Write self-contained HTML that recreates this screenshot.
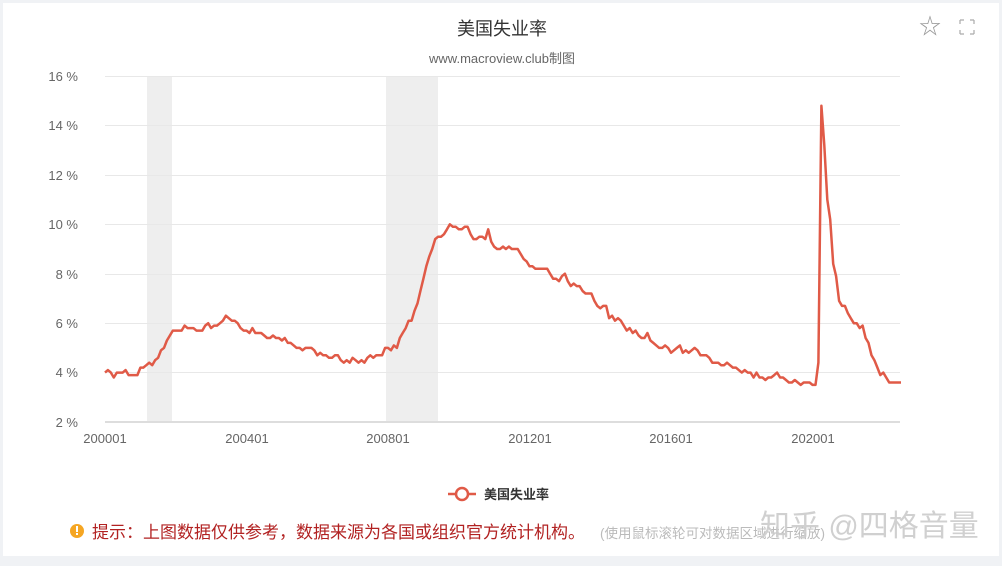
<!DOCTYPE html>
<html><head><meta charset="utf-8"><style>
body{margin:0;width:1002px;height:566px;background:#f0f2f5;font-family:"Liberation Sans","Noto Sans CJK SC",sans-serif;overflow:hidden}
#card{position:absolute;left:3px;top:3px;width:996px;height:553px;background:#fff}
</style></head><body>
<div id="card"></div>
<svg width="1002" height="566" style="position:absolute;left:0;top:0" font-family="Liberation Sans, Noto Sans CJK SC, sans-serif">
<text x="502" y="35" text-anchor="middle" font-size="18" fill="#333">美国失业率</text>
<text x="502" y="63" text-anchor="middle" font-size="13" fill="#666">www.macroview.club制图</text>
<text x="930" y="34" text-anchor="middle" font-size="22" fill="#999">☆</text>
<g stroke="#aaa" stroke-width="1.2" fill="none"><path d="M960 20l4 0M960 20l0 4M974 20l-4 0M974 20l0 4M960 34l4 0M960 34l0-4M974 34l-4 0M974 34l0-4"/></g>
<rect x="147" y="76" width="25" height="346" fill="#eee"/>
<rect x="386" y="76" width="52" height="346" fill="#eee"/>
<g stroke="#e8e8e8" stroke-width="1">
<line x1="105" x2="900" y1="76.5" y2="76.5"/><line x1="105" x2="900" y1="125.5" y2="125.5"/><line x1="105" x2="900" y1="175.5" y2="175.5"/><line x1="105" x2="900" y1="224.5" y2="224.5"/><line x1="105" x2="900" y1="274.5" y2="274.5"/><line x1="105" x2="900" y1="323.5" y2="323.5"/><line x1="105" x2="900" y1="372.5" y2="372.5"/>
</g>
<line x1="105" x2="900" y1="422" y2="422" stroke="#ddd" stroke-width="2"/>
<g font-size="13" fill="#666" text-anchor="end">
<text x="78" y="81">16 %</text><text x="78" y="130">14 %</text><text x="78" y="180">12 %</text><text x="78" y="229">10 %</text><text x="78" y="279">8 %</text><text x="78" y="328">6 %</text><text x="78" y="377">4 %</text><text x="78" y="427">2 %</text>
</g>
<g font-size="13" fill="#666" text-anchor="middle">
<text x="105" y="443">200001</text><text x="247" y="443">200401</text><text x="388" y="443">200801</text><text x="530" y="443">201201</text><text x="671" y="443">201601</text><text x="813" y="443">202001</text>
</g>
<polyline id="ln" fill="none" stroke="#e05a47" stroke-width="2.5" stroke-linejoin="round"/>
<line x1="448" x2="476" y1="494" y2="494" stroke="#e05a47" stroke-width="2.5"/>
<circle cx="462" cy="494" r="6" fill="#fff" stroke="#e05a47" stroke-width="2.5"/>
<text x="484" y="499" font-size="13" fill="#333" font-weight="bold">美国失业率</text>
<circle cx="77" cy="531" r="7" fill="#f5a623"/><rect x="76" y="526" width="2" height="6" fill="#fff"/><rect x="76" y="533" width="2" height="2" fill="#fff"/>
<text x="92" y="538" font-size="17" fill="#b22222">提示：上图数据仅供参考，数据来源为各国或组织官方统计机构。</text>
<text x="600" y="538" font-size="13.5" fill="#bbb">(使用鼠标滚轮可对数据区域进行缩放)</text>
<text x="760" y="536" font-size="30" fill="#ccc" opacity="0.9">知乎 @四格音量</text>
</svg>
<script>
var d=[4.0,4.1,4.0,3.8,4.0,4.0,4.0,4.1,3.9,3.9,3.9,3.9,
4.2,4.2,4.3,4.4,4.3,4.5,4.6,4.9,5.0,5.3,5.5,5.7,
5.7,5.7,5.7,5.9,5.8,5.8,5.8,5.7,5.7,5.7,5.9,6.0,
5.8,5.9,5.9,6.0,6.1,6.3,6.2,6.1,6.1,6.0,5.8,5.7,
5.7,5.6,5.8,5.6,5.6,5.6,5.5,5.4,5.4,5.5,5.4,5.4,
5.3,5.4,5.2,5.2,5.1,5.0,5.0,4.9,5.0,5.0,5.0,4.9,
4.7,4.8,4.7,4.7,4.6,4.6,4.7,4.7,4.5,4.4,4.5,4.4,
4.6,4.5,4.4,4.5,4.4,4.6,4.7,4.6,4.7,4.7,4.7,5.0,
5.0,4.9,5.1,5.0,5.4,5.6,5.8,6.1,6.1,6.5,6.8,7.3,
7.8,8.3,8.7,9.0,9.4,9.5,9.5,9.6,9.8,10.0,9.9,9.9,
9.8,9.8,9.9,9.9,9.6,9.4,9.4,9.5,9.5,9.4,9.8,9.3,
9.1,9.0,9.0,9.1,9.0,9.1,9.0,9.0,9.0,8.8,8.6,8.5,
8.3,8.3,8.2,8.2,8.2,8.2,8.2,8.0,7.8,7.8,7.7,7.9,
8.0,7.7,7.5,7.6,7.5,7.5,7.3,7.2,7.2,7.2,6.9,6.7,
6.6,6.7,6.7,6.2,6.3,6.1,6.2,6.1,5.9,5.7,5.8,5.6,
5.7,5.5,5.4,5.4,5.6,5.3,5.2,5.1,5.0,5.0,5.1,5.0,
4.8,4.9,5.0,5.1,4.8,4.9,4.8,4.9,5.0,4.9,4.7,4.7,
4.7,4.6,4.4,4.4,4.4,4.3,4.3,4.4,4.3,4.2,4.2,4.1,
4.0,4.1,4.0,4.0,3.8,4.0,3.8,3.8,3.7,3.8,3.8,3.9,
4.0,3.8,3.8,3.7,3.6,3.6,3.7,3.6,3.5,3.6,3.6,3.6,
3.5,3.5,4.4,14.8,13.2,11.0,10.2,8.4,7.9,6.9,6.7,6.7,
6.4,6.2,6.0,6.0,5.8,5.9,5.4,5.2,4.7,4.5,4.2,3.9,
4.0,3.8,3.6,3.6,3.6,3.6,3.6];
var p=d.map(function(v,i){return (105+i*2.948).toFixed(1)+","+(422-(v-2)*24.71).toFixed(1)}).join(" ");
document.getElementById("ln").setAttribute("points",p);
</script>
</body></html>
